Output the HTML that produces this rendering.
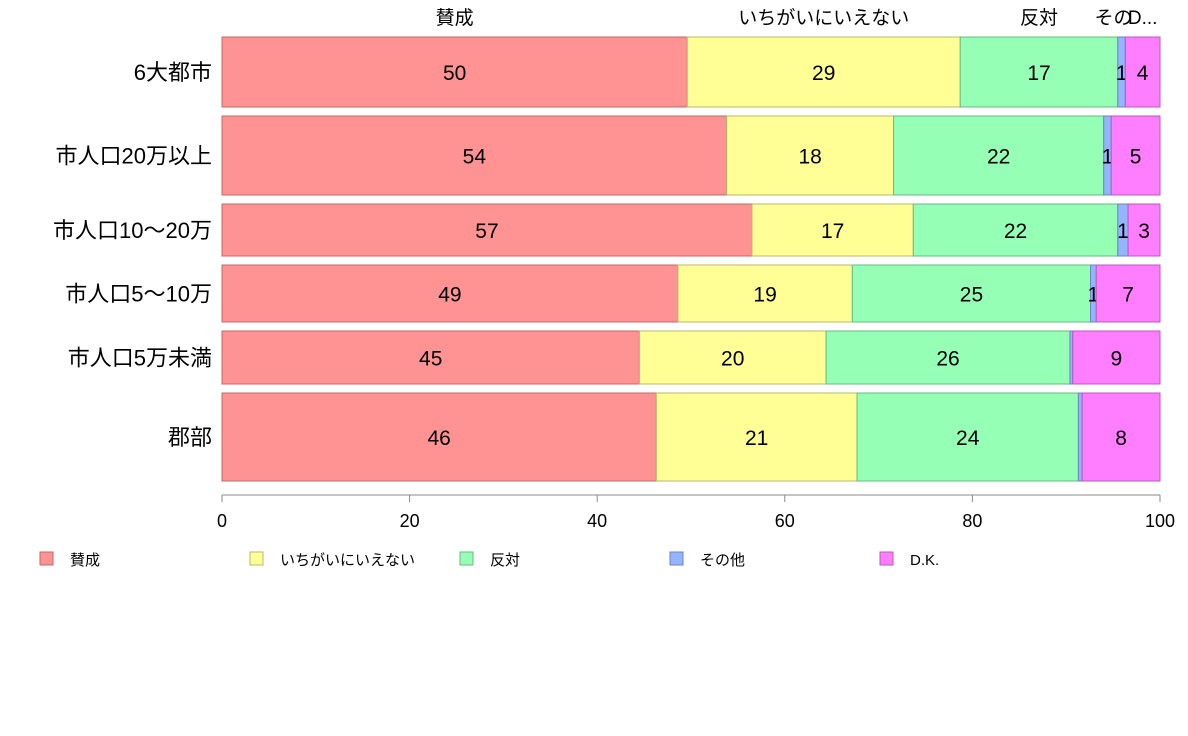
<!DOCTYPE html>
<html><head><meta charset="utf-8"><style>
body{margin:0;background:#fff}
svg{display:block;font-family:"Liberation Sans","Noto Sans CJK JP",sans-serif}
</style></head><body>
<svg id="chart" width="1188" height="736" viewBox="0 0 1188 736"></svg>
<script>
const categories=["6大都市","市人口20万以上","市人口10〜20万","市人口5〜10万","市人口5万未満","郡部"];
const seriesNames=["賛成","いちがいにいえない","反対","その他","D.K."];
const sanSei=[49.6,53.8,56.5,48.6,44.5,46.3];
const ichigai=[29.1,17.8,17.2,18.6,19.9,21.4];
const hantai=[16.8,22.4,21.8,25.4,26.0,23.6];
const sonota=[0.8,0.8,1.1,0.6,0.3,0.4];
const dk=[3.7,5.2,3.4,6.8,9.3,8.3];
const weights=[70,79,52,57,53,88];
const ticks=[0,20,40,60,80,100];
const series=[sanSei,ichigai,hantai,sonota,dk];
const fills=["#ff9393","#ffff95","#94ffb5","#94b4ff","#ff7dff"];
const strokes=["#c06a6a","#b8b86a","#6ab885","#6a86c0","#b85ab8"];
const NS="http://www.w3.org/2000/svg";
const svg=document.getElementById('chart');
const x0=222,x1=1160,yTop=37,yBot=481,gap=9;
const xs=v=>x0+(x1-x0)*v/100;
function el(t,a,txt){const e=document.createElementNS(NS,t);for(const k in a)e.setAttribute(k,a[k]);if(txt!==undefined)e.textContent=txt;svg.appendChild(e);return e;}
const totalW=weights.reduce((a,b)=>a+b,0);
const avail=yBot-yTop-gap*(categories.length-1);
let y=yTop;
categories.forEach((c,i)=>{
  const h=avail*weights[i]/totalW;
  const lab=el('text',{x:212,y:y+h/2+8,'text-anchor':'end','font-size':22,fill:'#000'},c);
  
  
  let cum=0;
  series.forEach((s,j)=>{
    const v=s[i];
    const r=el('rect',{x:xs(cum),y:y,width:xs(cum+v)-xs(cum),height:h,fill:fills[j],stroke:strokes[j],'stroke-width':1});
    
    
    if(Math.round(v)>=1){
      const t=el('text',{x:(xs(cum)+xs(cum+v))/2,y:y+h/2+8,'text-anchor':'middle','font-size':21,fill:'#000'},Math.round(v));
      
      
    }
    if(i===0){
      const nm=j===4?"D...":(j===3?"その":seriesNames[j]);
      const tt=el('text',{x:(xs(cum)+xs(cum+v))/2+(j===3?-8:0),y:24,'text-anchor':'middle','font-size':19,fill:'#000'},nm);
      
      
    }
    cum+=v;
  });
  y+=h+gap;
});
const ax=el('line',{x1:x0,x2:x1,y1:495,y2:495,stroke:'#888'});


ticks.forEach(t=>{
  const l=el('line',{x1:xs(t),x2:xs(t),y1:495,y2:502,stroke:'#888'});
  
  
  const tx=el('text',{x:xs(t),y:527,'text-anchor':'middle','font-size':18,fill:'#000'},t);
  
  
});
seriesNames.forEach((n,j)=>{
  const lx=40+j*210;
  const r=el('rect',{x:lx,y:552,width:13,height:13,fill:fills[j],stroke:strokes[j]});
  
  
  const t=el('text',{x:lx+30,y:565,'font-size':15,fill:'#000'},n);
  
  
});
</script>
</body></html>
